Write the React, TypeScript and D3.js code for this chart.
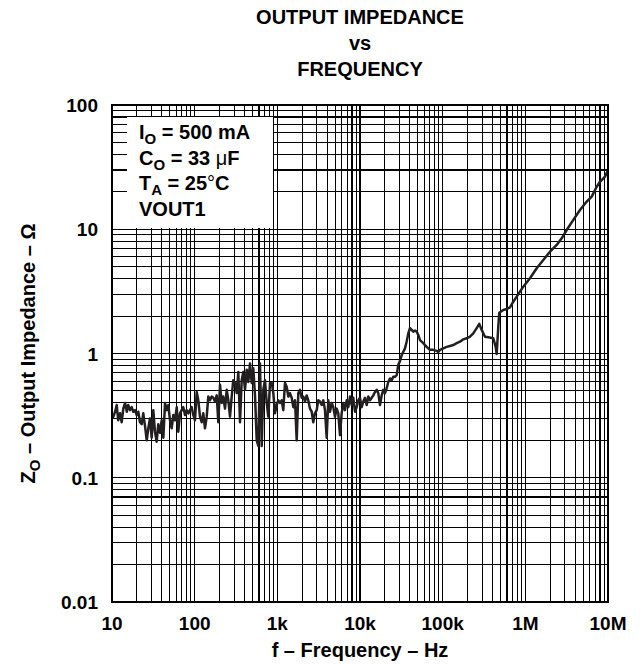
import React from 'react';
import * as d3 from 'd3';

// Output impedance vs frequency
const freqHz: number[] = [
  10, 10.4, 10.9, 11.4, 11.9, 12.5, 13.1, 13.7, 14.4, 15.1, 15.7, 16.5, 17.3, 18.1, 19.0, 19.9,
  20.8, 21.8, 22.9, 23.9, 25.1, 26.3, 27.5, 28.8, 30.2, 31.6, 33.1, 34.7, 36.3, 38.1, 39.9,
  41.8, 43.8, 45.9, 48.0, 50.3, 52.7, 55.2, 57.8, 60.7, 63.4, 66.5, 69.7, 72.8, 76.4, 80.1,
  84, 87.8, 92.0, 96.2, 100.9, 105.8, 110.7, 116, 121.6, 127.1, 133.3, 139.8, 146.2, 153.3,
  160.7, 167.9, 176.1, 184.8, 193.2, 202.6, 212.3, 221.8, 232.8, 244.1, 255.3, 267.6, 280.5,
  293.1, 307.6, 322.5, 337.3, 353.6, 370.7, 387.3, 406.4, 426.1, 445.7, 467.2, 489.8, 511.7,
  537, 563, 589, 617, 647, 676, 709, 744, 778, 815,
  855, 894, 937, 982, 1027, 1077, 1129, 1180, 1238, 1297, 1357, 1423, 1492, 1560, 1635, 1715,
  1793, 1879, 1971, 2061, 2160, 2265, 2369, 2483, 2604, 2722, 2855, 2992, 3130, 3281, 3440,
  3597, 3771, 3954, 4135, 4335, 4544, 4753, 4982, 5224, 5463, 5728,
  5998, 6281, 6584, 6902, 7217, 7566, 7932, 8297, 8698, 9120, 9535, 10000, 10480, 10960,
  11490, 12050, 12600, 13210, 13850, 14480, 15180, 15920, 16640, 17450, 18300, 19130, 20060,
  21030, 21980, 23050, 24160, 25270, 26490, 27780, 29040, 30450, 31930, 33390, 34990, 36700,
  38370,
  40240, 42190, 44120, 46240, 48490, 50700, 53170, 55720, 58290, 61090, 64070, 66990, 70250,
  76920, 84690, 88510, 92830, 101700, 111800, 122600, 134400, 147800, 162000, 177600, 195200,
  214000, 234600, 257900, 277300, 296500, 325100, 356300, 409600, 437800, 450200, 470700,
  484000, 541100, 594900, 652100,
  714800, 786100, 861400, 944600, 1138000, 1372000, 1649000, 1987000, 2394000, 2754000,
  3164000, 3803000, 4584000, 5524000, 6349000, 7298000, 8000000, 9197000, 10000000,
];

const impedanceOhm: number[] = [
  0.30, 0.31, 0.34, 0.385, 0.29, 0.33, 0.28, 0.36, 0.40, 0.34, 0.385, 0.35, 0.37, 0.34, 0.35, 0.32,
  0.34, 0.28, 0.27, 0.33, 0.26, 0.20, 0.25, 0.30, 0.21, 0.35, 0.235, 0.195, 0.27, 0.23, 0.29,
  0.21, 0.40, 0.35, 0.385, 0.29, 0.25, 0.32, 0.29, 0.37, 0.235, 0.33, 0.35, 0.37, 0.32, 0.35,
  0.33, 0.35, 0.37, 0.32, 0.29, 0.49, 0.42, 0.31, 0.28, 0.33, 0.25, 0.31, 0.45, 0.42,
  0.45, 0.44, 0.41, 0.46, 0.28, 0.56, 0.40, 0.45, 0.36, 0.51, 0.42, 0.31, 0.45,
  0.61, 0.58, 0.48, 0.71, 0.28, 0.61, 0.71, 0.51, 0.74, 0.59, 0.83, 0.58, 0.76,
  0.46, 0.20, 0.18, 0.83, 0.18, 0.51, 0.61, 0.40, 0.31, 0.58,
  0.58, 0.48, 0.33, 0.385, 0.42, 0.40, 0.42, 0.35, 0.58, 0.54, 0.45, 0.48, 0.44, 0.37, 0.42, 0.20,
  0.48, 0.51, 0.44, 0.45, 0.41, 0.46, 0.42, 0.36, 0.34, 0.28, 0.33, 0.35, 0.42, 0.41, 0.385,
  0.42, 0.35, 0.21, 0.42, 0.34, 0.40, 0.37, 0.31, 0.36, 0.33, 0.22,
  0.33, 0.40, 0.35, 0.42, 0.37, 0.45, 0.385, 0.44, 0.34, 0.37, 0.42, 0.44, 0.37, 0.41,
  0.44, 0.385, 0.45, 0.42, 0.44, 0.46, 0.49, 0.51, 0.48, 0.385, 0.46, 0.51, 0.48,
  0.525, 0.59, 0.63, 0.61, 0.65, 0.65, 0.67, 0.81, 0.87, 0.97, 1.03, 1.10, 1.25,
  1.45,
  1.60, 1.55, 1.50, 1.53, 1.50, 1.41, 1.28, 1.245, 1.21, 1.17, 1.13, 1.10, 1.07,
  1.07, 1.05, 1.03, 1.07, 1.10, 1.13, 1.15, 1.17, 1.21, 1.245, 1.30, 1.325,
  1.365, 1.45, 1.60, 1.73, 1.55, 1.365, 1.35, 1.325, 1.13, 0.99, 1.64,
  2.13, 2.24, 2.28, 2.35,
  2.61, 2.87, 3.15, 3.45, 4.03, 4.85, 5.66, 6.60, 7.47, 8.46,
  9.86, 11.9, 14.3, 16.7, 18.3, 22.0, 24.1, 26.5, 30.0,
];

const xTickValues = [10, 100, 1e3, 1e4, 1e5, 1e6, 1e7];
const xTickLabels = ['10', '100', '1k', '10k', '100k', '1M', '10M'];
const yTickValues = [0.01, 0.1, 1, 10, 100];
const yTickLabels = ['0.01', '0.1', '1', '10', '100'];

const FONT = '"Liberation Sans", Arial, Helvetica, sans-serif';

export default function App() {
  const W = 641;
  const H = 665;
  const L = 112, R = 608, T = 105, B = 602;

  const x = d3.scaleLog().domain([10, 1e7]).range([L, R]);
  const y = d3.scaleLog().domain([0.01, 100]).range([B, T]);

  const xGrid: number[] = [];
  for (let d = 10; d < 1e7; d *= 10) for (let k = 1; k <= 9; k++) if (!(d === 10 && k === 1)) xGrid.push(d * k);
  const yGrid: number[] = [];
  for (let d = 0.01; d < 100; d *= 10) for (let k = 1; k <= 9; k++) if (!(k === 1 && d < 0.011)) yGrid.push(d * k);

  const line = d3
    .line<number>()
    .x((_, i) => x(freqHz[i]))
    .y((_, i) => y(impedanceOhm[i]));
  const pathD = line(impedanceOhm) || '';

  return (
    <svg width={W} height={H} style={{ position: 'absolute', left: 0, top: 0, display: 'block' }}
      fontFamily={FONT} fontWeight="bold">
      <rect x={0} y={0} width={W} height={H} fill="#fff" />
      {/* title */}
      <g textAnchor="middle" fontSize={20} fill="#000">
        <text x={(L + R) / 2} y={24}>OUTPUT IMPEDANCE</text>
        <text x={(L + R) / 2} y={50}>vs</text>
        <text x={(L + R) / 2} y={76}>FREQUENCY</text>
      </g>
      {/* grid */}
      <g stroke="#000" strokeWidth={1.1} shapeRendering="crispEdges">
        {xGrid.map((v, i) => (
          <line key={'x' + i} x1={x(v)} x2={x(v)} y1={T} y2={B} />
        ))}
        {yGrid.map((v, i) => (
          <line key={'y' + i} x1={L} x2={R} y1={y(v)} y2={y(v)} />
        ))}
      </g>
      {/* legend box */}
      <rect x={127} y={117} width={146} height={111} fill="#fff" />
      <g fontSize={20} fill="#000">
        <text x={139} y={139}>
          I<tspan dy={5} fontSize={15}>O</tspan><tspan dy={-5}> = 500 mA</tspan>
        </text>
        <text x={139} y={165}>
          C<tspan dy={5} fontSize={15}>O</tspan><tspan dy={-5}> = 33 </tspan>
          <tspan fontWeight="normal">μ</tspan>F
        </text>
        <text x={139} y={190}>
          T<tspan dy={5} fontSize={15}>A</tspan><tspan dy={-5}> = 25</tspan>
          <tspan fontWeight="normal">°</tspan>C
        </text>
        <text x={139} y={216}>VOUT1</text>
      </g>
      {/* curve */}
      <path d={pathD} fill="none" stroke="#231f20" strokeWidth={2.5} strokeLinejoin="round" />
      {/* frame */}
      <rect x={L} y={T} width={R - L} height={B - T} fill="none" stroke="#000" strokeWidth={2} />
      {/* y ticks */}
      <g fontSize={19} textAnchor="end" fill="#000">
        {yTickValues.map((v, i) => (
          <text key={i} x={98} y={y(v) + 7}>{yTickLabels[i]}</text>
        ))}
      </g>
      {/* x ticks */}
      <g fontSize={19} textAnchor="middle" fill="#000">
        {xTickValues.map((v, i) => (
          <text key={i} x={x(v)} y={630}>{xTickLabels[i]}</text>
        ))}
      </g>
      <text x={(L + R) / 2} y={657} fontSize={20} textAnchor="middle" fill="#000">
        f – Frequency – Hz
      </text>
      <text transform={`translate(35, ${(T + B) / 2}) rotate(-90)`} fontSize={20} textAnchor="middle" fill="#000">
        Z<tspan dy={5} fontSize={15}>O</tspan><tspan dy={-5}> – Output Impedance – Ω</tspan>
      </text>
    </svg>
  );
}
